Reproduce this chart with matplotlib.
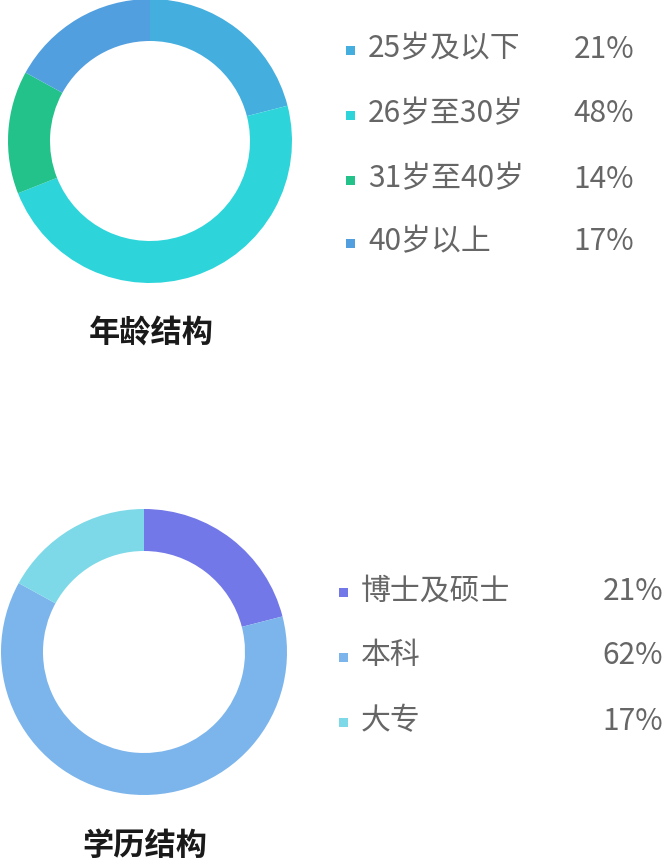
import matplotlib.pyplot as plt
from matplotlib.patches import Rectangle

plt.rcParams['font.family'] = ['Noto Sans CJK SC', 'DejaVu Sans']

age_labels = ['25岁及以下', '26岁至30岁', '31岁至40岁', '40岁以上']
age_values = [21, 48, 14, 17]
age_colors = ['#44aedf', '#2dd5db', '#22c28a', '#529fe0']

edu_labels = ['博士及硕士', '本科', '大专']
edu_values = [21, 62, 17]
edu_colors = ['#7278e8', '#7cb5ec', '#7dd9e8']

W, H = 669, 861
fig = plt.figure(figsize=(W / 100, H / 100), dpi=100)
ax = fig.add_axes([0, 0, 1, 1])


def donut(values, colors, cx, cy, r):
    # cy given in pixels from top
    ax.pie(values, colors=colors, startangle=90, counterclock=False,
           center=(cx, H - cy), radius=r, frame=True,
           wedgeprops=dict(width=42, edgecolor='none'))


def legend(labels, values, colors, x0, ys, xr):
    for lab, v, c, y in zip(labels, values, colors, ys):
        ax.add_patch(Rectangle((x0, H - y - 4.5), 9, 9, color=c, lw=0))
        ax.text(x0 + 22, H - y + 1, lab, fontsize=21.5, color='#666666',
                va='center', ha='left')
        ax.text(xr, H - y + 1, f'{v}%', fontsize=21.5, color='#666666',
                va='center', ha='right')


donut(age_values, age_colors, 150, 141, 142)
legend(age_labels, age_values, age_colors, 346, [50, 115, 180, 243], 634)
ax.text(151, H - 333, '年龄结构', fontsize=22.5, fontweight='bold',
        color='#1a1a1a', ha='center', va='center')

donut(edu_values, edu_colors, 144, 652, 143)
legend(edu_labels, edu_values, edu_colors, 339, [592, 657, 722], 663)
ax.text(145, H - 846, '学历结构', fontsize=22.5, fontweight='bold',
        color='#1a1a1a', ha='center', va='center')

ax.set_xlim(0, W)
ax.set_ylim(0, H)
ax.set_aspect('equal')
ax.axis('off')

fig.savefig('out.png', dpi=100)
